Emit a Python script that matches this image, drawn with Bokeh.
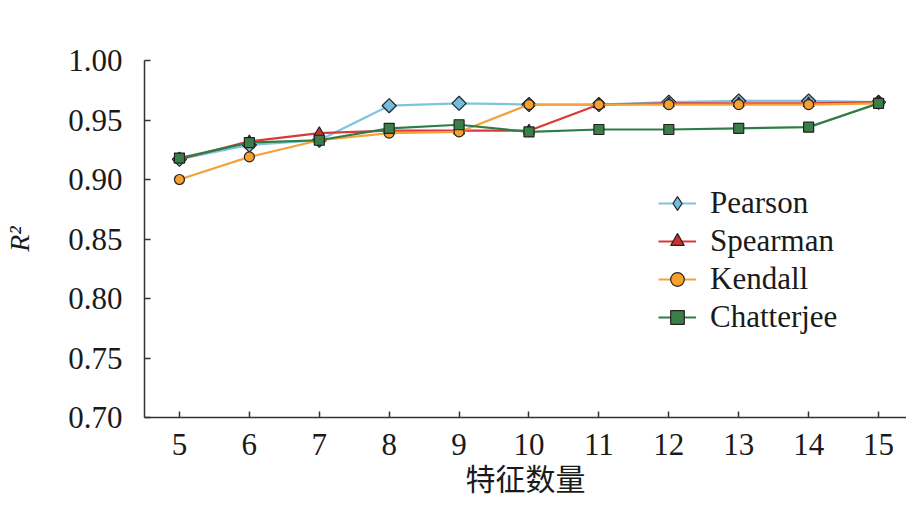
import math
from bokeh.plotting import figure
from bokeh.models import Range1d, FixedTicker, Legend, CustomJSTickFormatter
from bokeh.embed import file_html
from bokeh.resources import INLINE

features = [5, 6, 7, 8, 9, 10, 11, 12, 13, 14, 15]
pearson = [0.917, 0.929, 0.933, 0.962, 0.964, 0.963, 0.963, 0.965, 0.966, 0.966, 0.965]
spearman = [0.917, 0.932, 0.939, 0.941, 0.941, 0.941, 0.963, 0.964, 0.964, 0.964, 0.965]
kendall = [0.900, 0.919, 0.933, 0.939, 0.940, 0.963, 0.963, 0.963, 0.963, 0.963, 0.964]
chatterjee = [0.918, 0.931, 0.933, 0.943, 0.946, 0.940, 0.942, 0.942, 0.943, 0.944, 0.964]
y_ticks = [0.70, 0.75, 0.80, 0.85, 0.90, 0.95, 1.00]
x_title = "特征数量"
y_title = "R²"

SERIF = "'Liberation Serif', 'Times New Roman', serif"
CJK = "'Liberation Serif', 'Noto Sans CJK SC', serif"

p = figure(width=906, height=506, output_backend="svg", toolbar_location=None,
           x_range=Range1d(4.5, 15.4), y_range=Range1d(0.70, 1.00),
           min_border_left=144, min_border_right=0, min_border_top=60, min_border_bottom=89)
p.outline_line_color = None
p.grid.grid_line_color = None
p.background_fill_color = "white"

for ax in (p.xaxis[0], p.yaxis[0]):
    ax.axis_line_color = "#333333"
    ax.axis_line_width = 1.5
    ax.major_tick_line_color = "#333333"
    ax.major_tick_line_width = 1.5
    ax.major_tick_in = 6
    ax.major_tick_out = 0
    ax.minor_tick_line_color = None
    ax.major_label_text_font = SERIF
    ax.major_label_text_font_size = "31px"
    ax.major_label_text_color = "#1a1a1a"

p.xaxis.ticker = FixedTicker(ticks=features)
p.yaxis.ticker = FixedTicker(ticks=y_ticks)
p.yaxis.formatter = CustomJSTickFormatter(code="return tick.toFixed(2);")
p.xaxis.major_label_standoff = 16
p.yaxis.major_label_standoff = 22

p.xaxis.axis_label = x_title
p.xaxis.axis_label_text_font = CJK
p.xaxis.axis_label_text_font_style = "normal"
p.xaxis.axis_label_text_font_size = "30px"
p.xaxis.axis_label_text_color = "#1a1a1a"
p.xaxis.axis_label_standoff = 5

p.yaxis.axis_label = y_title
p.yaxis.axis_label_text_font = SERIF
p.yaxis.axis_label_text_font_style = "italic"
p.yaxis.axis_label_text_font_size = "28px"
p.yaxis.axis_label_text_color = "#1a1a1a"
p.yaxis.axis_label_standoff = 30

series = [
    ("Pearson", pearson, "#7EC4DE", "#74BCD9", "square", 10, math.pi / 4),
    ("Spearman", spearman, "#D93A36", "#C8312E", "triangle", 11, 0),
    ("Kendall", kendall, "#F4A23A", "#F7A030", "circle", 10, 0),
    ("Chatterjee", chatterjee, "#2E7D46", "#3A7F48", "square", 10, 0),
]

items = []
for name, vals, lc, fc, marker, size, ang in series:
    r1 = p.line(features, vals, line_color=lc, line_width=2.2)
    r2 = p.scatter(features, vals, marker=marker, size=size, angle=ang,
                   fill_color=fc, line_color="#222222", line_width=1.2)
    if ang != 0:
        r3 = p.scatter([float("nan")], [float("nan")], marker="diamond", size=16,
                       fill_color=fc, line_color="#222222", line_width=1.2)
        items.append((name, [r1, r3]))
    else:
        items.append((name, [r1, r2]))

legend = Legend(items=items, location=(514, 82))
legend.label_text_font = SERIF
legend.label_text_font_size = "31px"
legend.label_text_color = "#1a1a1a"
legend.border_line_alpha = 0
legend.background_fill_alpha = 0
legend.padding = 0
legend.margin = 0
legend.glyph_width = 38
legend.glyph_height = 34
legend.label_height = 34
legend.label_standoff = 14
legend.spacing = 2
p.add_layout(legend, "center")

open("out.html", "w").write(file_html(p, INLINE))
